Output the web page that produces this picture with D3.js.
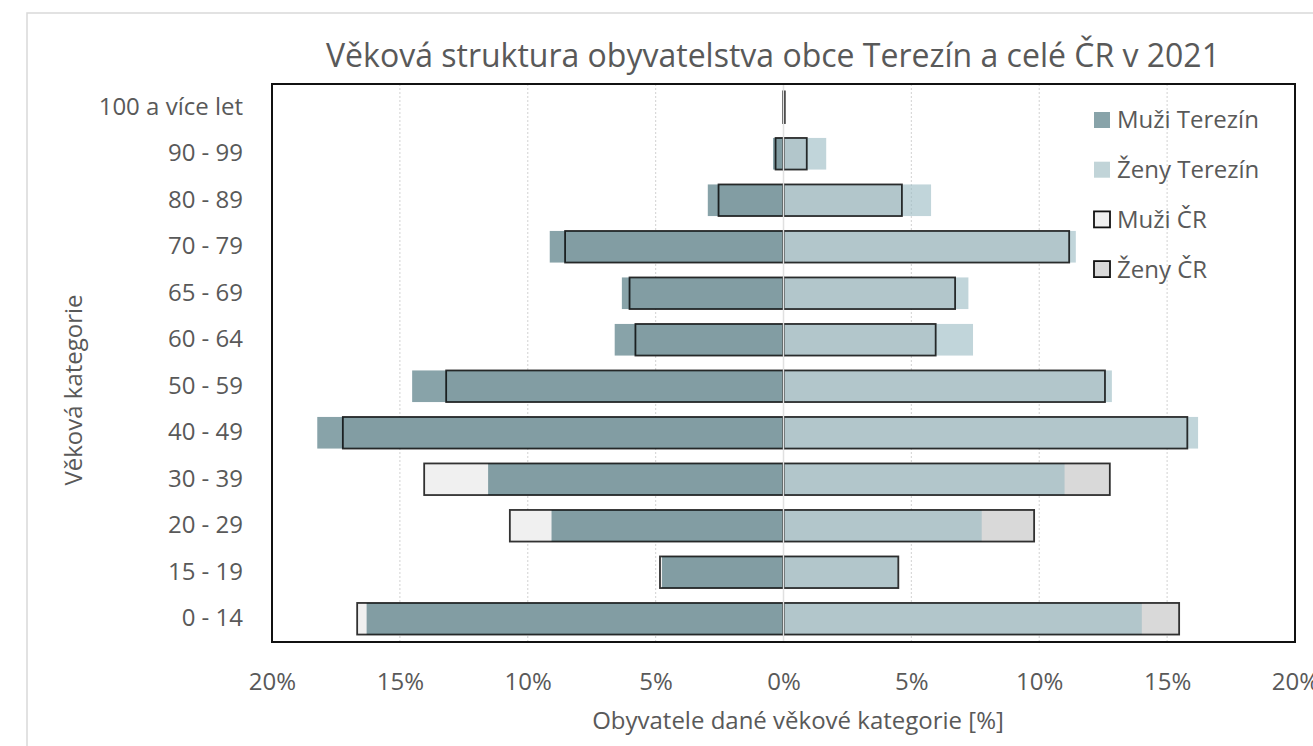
<!DOCTYPE html>
<html>
<head>
<meta charset="utf-8">
<script src="https://cdn.jsdelivr.net/npm/d3@7"></script>
<style>
  body { margin: 0; background: #fff; }
  text { font-family: "Open Sans", sans-serif; fill: #595959; }
</style>
</head>
<body>
<div id="chart"></div>
<script>
// age groups, bottom to top
var categories = ["0 - 14", "15 - 19", "20 - 29", "30 - 39", "40 - 49", "50 - 59",
                  "60 - 64", "65 - 69", "70 - 79", "80 - 89", "90 - 99", "100 a více let"];
// shares in %
var muziTerezin = [16.3, 4.75, 9.07, 11.55, 18.23, 14.52, 6.6, 6.32, 9.14, 2.96, 0.41, 0];
var zenyTerezin = [14.01, 4.47, 7.75, 10.99, 16.21, 12.84, 7.41, 7.23, 11.43, 5.77, 1.67, 0];
var muziCR = [16.67, 4.83, 10.7, 14.05, 17.23, 13.19, 5.79, 6.02, 8.54, 2.54, 0.31, 0.01];
var zenyCR = [15.47, 4.49, 9.8, 12.76, 15.79, 12.57, 5.95, 6.71, 11.17, 4.63, 0.91, 0.05];
var xTicks = [-20, -15, -10, -5, 0, 5, 10, 15, 20];
var legendNames = ["Muži Terezín", "Ženy Terezín", "Muži ČR", "Ženy ČR"];

var width = 1313, height = 746;
var pLeft = 272, pRight = 1295, pTop = 84, pBottom = 642;

var svg = d3.select("#chart").append("svg")
    .attr("width", width)
    .attr("height", height);

// outer chart border (cut by the window)
svg.append("rect")
    .attr("x", 27).attr("y", 13)
    .attr("width", 1400).attr("height", 900)
    .attr("fill", "#fff")
    .attr("stroke", "#d9d9d9")
    .attr("stroke-width", 1.5);

var x = d3.scaleLinear().domain([-20, 20]).range([pLeft, pRight]);
var y = d3.scaleBand()
    .domain(categories.slice().reverse())
    .range([pTop, pBottom])
    .paddingInner(0.32)
    .paddingOuter(0.16);

// gridlines
svg.append("g")
    .selectAll("line")
    .data(xTicks.filter(function(d) { return Math.abs(d) != 20 && d != 0; }))
    .enter().append("line")
    .attr("x1", function(d) { return x(d); })
    .attr("x2", function(d) { return x(d); })
    .attr("y1", pTop).attr("y2", pBottom)
    .attr("stroke", "#d9d9d9")
    .attr("stroke-width", 1.2)
    .attr("stroke-dasharray", "2,2");

var rows = categories.map(function(c, i) {
    return { cat: c, mt: muziTerezin[i], zt: zenyTerezin[i], mc: muziCR[i], zc: zenyCR[i] };
});

function leftBar(g, key) {
    return g.selectAll("rect")
        .data(rows).enter().append("rect")
        .attr("x", function(d) { return x(-d[key]); })
        .attr("y", function(d) { return y(d.cat); })
        .attr("width", function(d) { return x(0) - x(-d[key]); })
        .attr("height", y.bandwidth());
}
function rightBar(g, key) {
    return g.selectAll("rect")
        .data(rows).enter().append("rect")
        .attr("x", x(0))
        .attr("y", function(d) { return y(d.cat); })
        .attr("width", function(d) { return x(d[key]) - x(0); })
        .attr("height", y.bandwidth());
}

// ČR fills behind
leftBar(svg.append("g"), "mc").attr("fill", "#f0f0f0");
rightBar(svg.append("g"), "zc").attr("fill", "#d9d9d9");

// Terezín bars, partly transparent
leftBar(svg.append("g"), "mt").attr("fill", "#39656f").attr("fill-opacity", 0.6);
rightBar(svg.append("g"), "zt").attr("fill", "#98b9c1").attr("fill-opacity", 0.6);

// ČR outlines on top
leftBar(svg.append("g"), "mc").attr("fill", "none")
    .attr("stroke", "rgba(0,0,0,0.8)").attr("stroke-width", 1.8);
rightBar(svg.append("g"), "zc").attr("fill", "none")
    .attr("stroke", "rgba(0,0,0,0.8)").attr("stroke-width", 1.8);

// zero line
svg.append("line")
    .attr("x1", x(0)).attr("x2", x(0))
    .attr("y1", pTop).attr("y2", pBottom)
    .attr("stroke", "#e0e0e0")
    .attr("stroke-width", 1.5);

// plot frame
svg.append("rect")
    .attr("x", pLeft).attr("y", pTop)
    .attr("width", pRight - pLeft).attr("height", pBottom - pTop)
    .attr("fill", "none")
    .attr("stroke", "#111")
    .attr("stroke-width", 2);

// axes
var xAxis = svg.append("g")
    .attr("transform", "translate(0," + pBottom + ")")
    .call(d3.axisBottom(x).tickValues(xTicks).tickSize(0).tickPadding(31)
        .tickFormat(function(d) { return Math.abs(d) + "%"; }));
xAxis.select(".domain").remove();
xAxis.selectAll("text").style("font-size", "24px").attr("fill", "#595959");

var yAxis = svg.append("g")
    .attr("transform", "translate(" + pLeft + ",0)")
    .call(d3.axisLeft(y).tickSize(0).tickPadding(29));
yAxis.select(".domain").remove();
yAxis.selectAll("text").style("font-size", "24px").attr("fill", "#595959");

// titles
svg.append("text")
    .attr("x", 773).attr("y", 67)
    .attr("text-anchor", "middle")
    .style("font-size", "32px")
    .text("Věková struktura obyvatelstva obce Terezín a celé ČR v 2021");

svg.append("text")
    .attr("x", 798).attr("y", 729)
    .attr("text-anchor", "middle")
    .style("font-size", "24px")
    .text("Obyvatele dané věkové kategorie [%]");

svg.append("text")
    .attr("transform", "translate(82,390)rotate(-90)")
    .attr("text-anchor", "middle")
    .style("font-size", "24px")
    .text("Věková kategorie");

// legend
var legendFill = ["#88a3a9", "#c1d4d8", "#f0f0f0", "#d9d9d9"];
var legend = svg.append("g").selectAll("g")
    .data(legendNames).enter().append("g")
    .attr("transform", function(d, i) { return "translate(1094," + (120 + i * 49.7) + ")"; });
legend.append("rect")
    .attr("x", 0).attr("y", -8)
    .attr("width", 16).attr("height", 16)
    .attr("fill", function(d, i) { return legendFill[i]; })
    .attr("stroke", function(d, i) { return i < 2 ? "none" : "#111"; })
    .attr("stroke-width", 1.8);
legend.append("text")
    .attr("x", 23).attr("dy", "0.35em")
    .style("font-size", "24px")
    .text(function(d) { return d; });
</script>
</body>
</html>
